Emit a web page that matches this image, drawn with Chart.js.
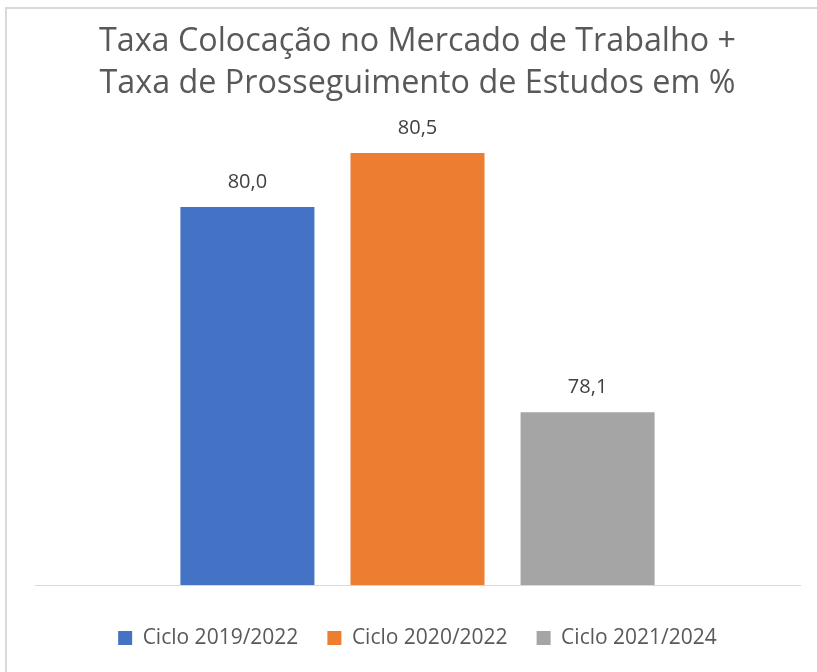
<!DOCTYPE html>
<html>
<head>
<meta charset="utf-8">
<script src="https://cdn.jsdelivr.net/npm/chart.js@4/dist/chart.umd.min.js"></script>
<style>
  body { margin: 0; background: #fff; }
  #wrap { position: relative; width: 817px; height: 672px; }
  #frame {
    position: absolute; left: 5px; top: 7px; width: 830px; height: 700px;
    border: 2px solid #d9d9d9; box-sizing: border-box;
  }
  canvas { position: absolute; left: 0; top: 0; }
</style>
</head>
<body>
<div id="wrap">
  <div id="frame"></div>
  <canvas id="myChart" width="817" height="672"></canvas>
</div>
<script>
const titleLines = ["Taxa Colocação no Mercado de Trabalho +", "Taxa de Prosseguimento de Estudos em %"];
const seriesNames = ["Ciclo 2019/2022", "Ciclo 2020/2022", "Ciclo 2021/2024"];
const seriesValues = [80.0, 80.5, 78.1];
const seriesColors = ["#4472c4", "#ed7d31", "#a5a5a5"];

const FONT = "'Open Sans', sans-serif";

// value labels above each bar, comma decimal like the original
const barLabels = {
  id: "barLabels",
  afterDatasetsDraw(chart) {
    const { ctx } = chart;
    ctx.save();
    ctx.font = "20px " + FONT;
    ctx.fillStyle = "#404040";
    ctx.textAlign = "center";
    ctx.textBaseline = "middle";
    chart.data.datasets.forEach((ds, i) => {
      const bar = chart.getDatasetMeta(i).data[0];
      const txt = ds.data[0].toFixed(1).replace(".", ",");
      ctx.fillText(txt, bar.x, bar.y - 25);
    });
    ctx.restore();
  },
};

const datasets = seriesNames.map((name, i) => ({
  label: name,
  data: [seriesValues[i]],
  backgroundColor: seriesColors[i],
  barPercentage: 0.788,
  categoryPercentage: 0.667,
}));

new Chart(document.getElementById("myChart"), {
  type: "bar",
  data: { labels: [""], datasets },
  options: {
    responsive: false,
    animation: false,
    layout: { padding: { left: 35, right: 17, top: 0, bottom: 13.5 } },
    scales: {
      x: {
        grid: { display: false, drawTicks: false },
        ticks: { display: false },
        border: { color: "#d9d9d9", width: 1 },
        afterFit(axis) {
          axis.height = 13.5; // gap between baseline and legend
        },
      },
      y: {
        display: false,
        min: 76.5,
        max: 81,
      },
    },
    plugins: {
      tooltip: { enabled: false },
      title: {
        display: true,
        text: titleLines,
        color: "#595959",
        font: { family: FONT, size: 32.3, weight: "normal", lineHeight: "42px" },
        padding: { top: 21, bottom: -6 },
      },
      legend: {
        position: "bottom",
        labels: {
          color: "#595959",
          font: { family: FONT, size: 21 },
          boxWidth: 14,
          boxHeight: 14,
          padding: 29,
        },
      },
    },
  },
  plugins: [barLabels],
});
</script>
</body>
</html>
